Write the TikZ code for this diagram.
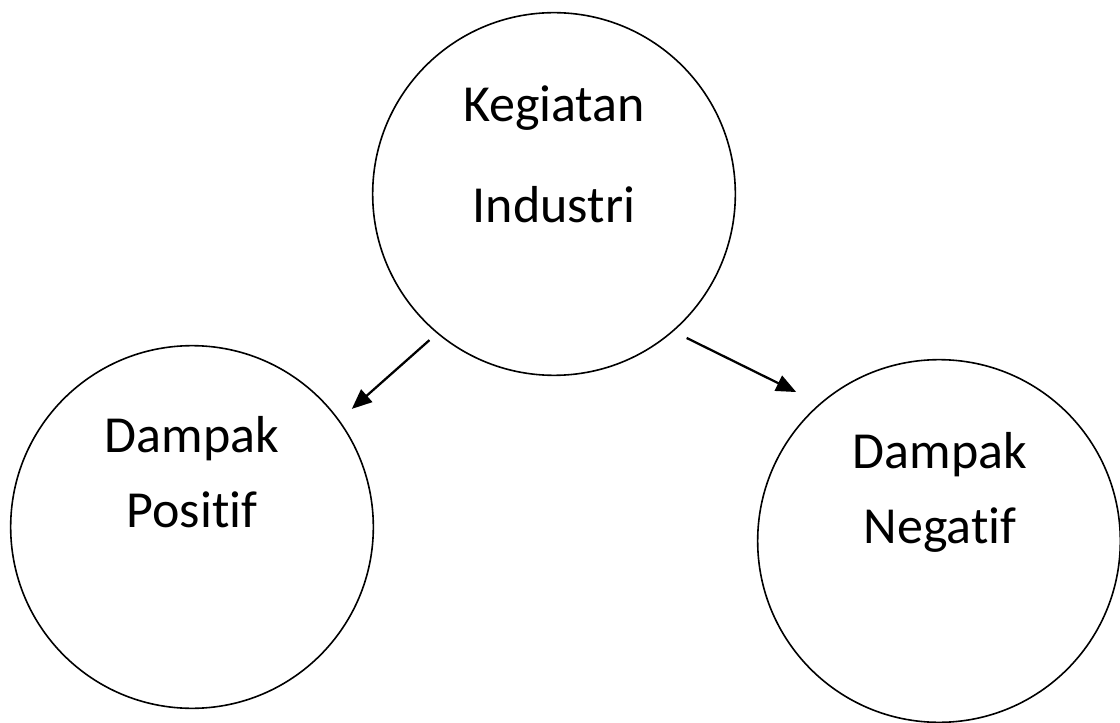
\documentclass[tikz,border=0pt]{standalone}
\usepackage{fontspec}
\setmainfont{Carlito}[Ligatures={NoCommon, NoContextual}]
\usetikzlibrary{arrows.meta}

\begin{document}
\begin{tikzpicture}[x=0.75pt, y=-0.75pt,
		bubble/.style={circle, draw=black, line width=1.2pt, minimum size=272pt, inner sep=0pt},
		caption/.style={anchor=base, inner sep=0pt, font=\fontsize{39}{47}\selectfont},
		impact/.style={-{Triangle[length=15pt, width=12.5pt]}, line width=1.7pt}]
			\useasboundingbox (0,0) rectangle (1120,723);
			\node (kegiatan) [bubble] at (554,194) {};
			\node (positif) [bubble] at (192,527) {};
			\node (negatif) [bubble] at (939,541) {};
			\node (kegiatan1) [caption] at (554,122) {Kegiatan};
			\node (kegiatan2) [caption] at (554,223) {Industri};
			\node (positif1) [caption] at (192,452) {Dampak};
			\node (positif2) [caption] at (192,527) {Positif};
			\node (negatif1) [caption] at (940,468) {Dampak};
			\node (negatif2) [caption] at (940,543) {Negatif};
			\draw[impact, shorten <=7.5pt, shorten >=12.5pt] (kegiatan.230) -- (positif.36);
			\draw[impact, shorten <=11pt, shorten >=19.5pt] (kegiatan.-49) -- (negatif.131);
		\end{tikzpicture}
\end{document}
